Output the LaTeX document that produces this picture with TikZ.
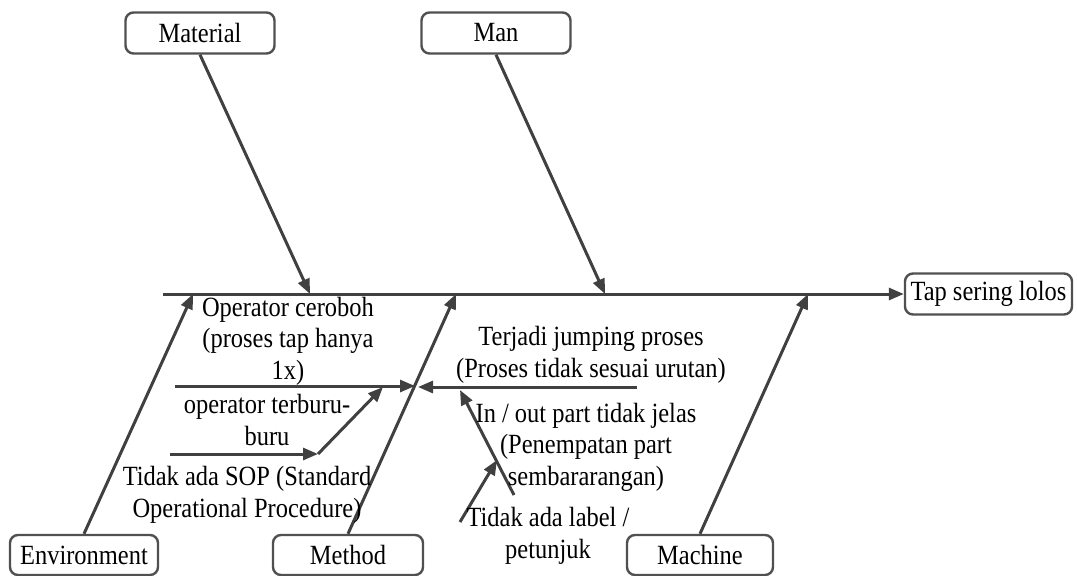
\documentclass[tikz,border=0pt]{standalone}
\usepackage{fontspec}
\setmainfont{Liberation Serif}[FakeStretch=0.88]
\usetikzlibrary{arrows.meta}
\definecolor{linegray}{HTML}{404040}
\definecolor{boxgray}{HTML}{505050}
\newcommand\lblfont{\fontsize{27.8}{31.5}\selectfont}
\begin{document}
\begin{tikzpicture}[x=1pt,y=-1pt,
  box/.style={draw=boxgray,line width=2.4pt,rounded corners=8pt,minimum height=41pt,inner sep=0pt,font=\lblfont},
  bone/.style={draw=linegray,line width=3pt,-{Triangle[length=15pt,width=12pt]}},
  plain/.style={draw=linegray,line width=3pt},
  lbl/.style={align=center,inner sep=0pt,font=\lblfont}]
\useasboundingbox (0,0) rectangle (1077,576);
% category boxes
\node[box,minimum width=149pt] (material) at (200,33) {Material};
\node[box,minimum width=149pt] (man) at (496,33) {Man};
\node[box,minimum width=167pt] (effect) at (988.5,294) {Tap sering lolos};
\node[box,minimum width=148pt,minimum height=40pt] (env) at (84,555) {Environment};
\node[box,minimum width=150pt,minimum height=40pt] (method) at (348,555) {Method};
\node[box,minimum width=146pt,minimum height=40pt] (machine) at (700,555) {Machine};
% spine
\coordinate (spinestart) at (163,294);
\draw[bone] (spinestart) -- (effect.west);
% main bones
\coordinate (jmat) at (310,294);
\coordinate (jman) at (605,294);
\coordinate (jenv) at (193,294);
\coordinate (jmet) at (456,294);
\coordinate (jmac) at (808,294);
\draw[bone] (material.south) -- (jmat);
\draw[bone] (man.south) -- (jman);
\draw[bone] (env.north) -- (jenv);
\draw[bone] (method.north) -- (jmet);
\draw[bone] (machine.north) -- (jmac);
% sub bones
\coordinate (a1s) at (175,386);
\coordinate (a1e) at (415,386);
\coordinate (a2s) at (637,387);
\coordinate (a2e) at (418,387);
\coordinate (a3s) at (170,454);
\coordinate (a3b) at (318,454);
\coordinate (a3e) at (383,387);
\coordinate (a4s) at (514,495);
\coordinate (a4e) at (460,390);
\coordinate (a5s) at (460,522);
\coordinate (a5e) at (497,460);
\draw[bone] (a1s) -- (a1e);
\draw[bone] (a2s) -- (a2e);
\draw[bone] (a3s) -- (a3b);
\draw[bone] (a3b) -- (a3e);
\draw[bone] (a4s) -- (a4e);
\draw[bone] (a5s) -- (a5e);
% labels
\node[lbl] (t1) at (288,341) {Operator ceroboh\\(proses tap hanya\\1x)};
\node[lbl] (t2) at (267,420) {operator terburu-\\buru};
\node[lbl] (t3) at (247,495) {Tidak ada SOP (Standard\\Operational Procedure)};
\node[lbl] (t4) at (591,355) {Terjadi jumping proses\\(Proses tidak sesuai urutan)};
\node[lbl] (t5) at (586,447) {In / out part tidak jelas\\(Penempatan part\\sembararangan)};
\node[lbl] (t6) at (548,536) {Tidak ada label /\\petunjuk};
\end{tikzpicture}
\end{document}
